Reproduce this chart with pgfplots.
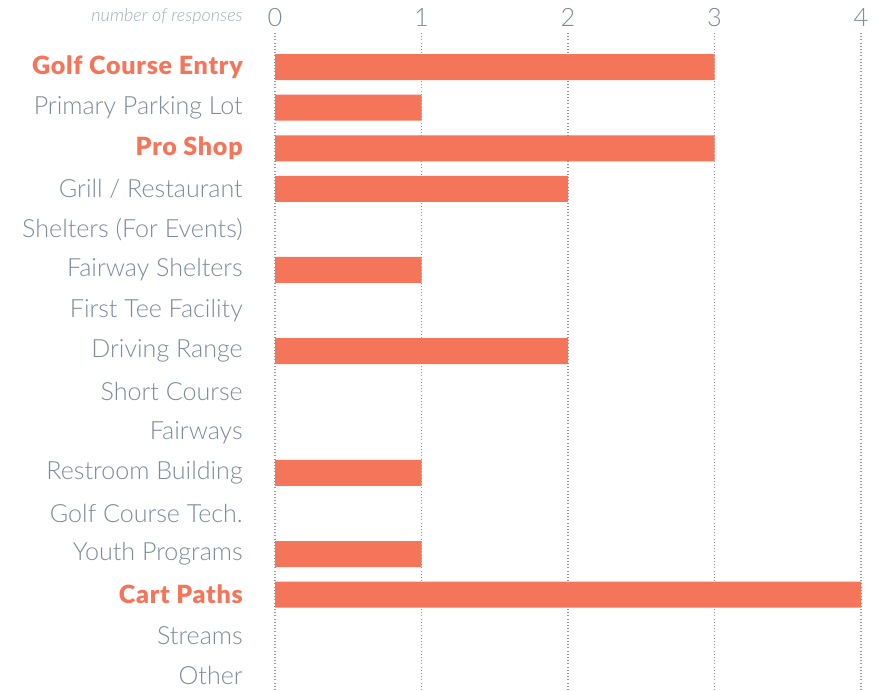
\documentclass[border=0pt]{standalone}
\usepackage{pgfplots}
\pgfplotsset{compat=1.18}
\usepackage{fontspec}
\setmainfont{Lato}[UprightFont={* Light},BoldFont={* Black},ItalicFont={* Light Italic}]
\newfontface\hlfont{Lato Black}[LetterSpace=3]
\definecolor{barc}{HTML}{F4755A}
\definecolor{txt}{HTML}{7D8B99}
\definecolor{grd}{HTML}{8C97A3}
\definecolor{lbl}{HTML}{A3ADB8}
\newcommand{\hl}[1]{\textcolor{barc}{\hlfont #1}}
\begin{document}
\begin{tikzpicture}
\path[use as bounding box] (0,0) rectangle (661.5pt,517.5pt);
\begin{axis}[
  at={(206.25pt,492.75pt)}, anchor=north west,
  scale only axis, width=439.5pt, height=492.75pt,
  xbar, bar width=19.5pt,
  xmin=0, xmax=4,
  ymin=-0.84, ymax=15.35, y dir=reverse,
  axis line style={draw=none},
  xtick={0,1,2,3,4},
  xticklabel pos=top,
  xmajorgrids, grid style={grd, dotted, line width=0.8pt},
  major tick length=0pt,
  xticklabel style={font=\fontsize{19}{19}\selectfont, txt, yshift=1pt},
  /pgf/number format/assume math mode=true,
  ytick={0,...,15},
  yticklabels={\hl{Golf Course Entry},Primary Parking Lot,\hl{Pro Shop},Grill / Restaurant,Shelters (For Events),Fairway Shelters,First Tee Facility,Driving Range,Short Course,Fairways,Restroom Building,Golf Course Tech.,Youth Programs,\hl{Cart Paths},Streams,Other},
  yticklabel style={font=\fontsize{18.8}{18.8}\selectfont, txt, inner sep=0pt},
  ymajorgrids=false,
  yticklabel shift=24pt,
  clip=false,
]
\addplot[fill=barc, draw=none] coordinates {
(3,0) (1,1) (3,2) (2,3) (1,5) (2,7) (1,10) (1,12) (4,13)};
\node[anchor=east, inner sep=0pt, font=\fontsize{13.5}{13.5}\selectfont\itshape, lbl] at ([xshift=-24pt,yshift=12pt]rel axis cs:0,1) {number of responses};
\end{axis}
\end{tikzpicture}
\end{document}
